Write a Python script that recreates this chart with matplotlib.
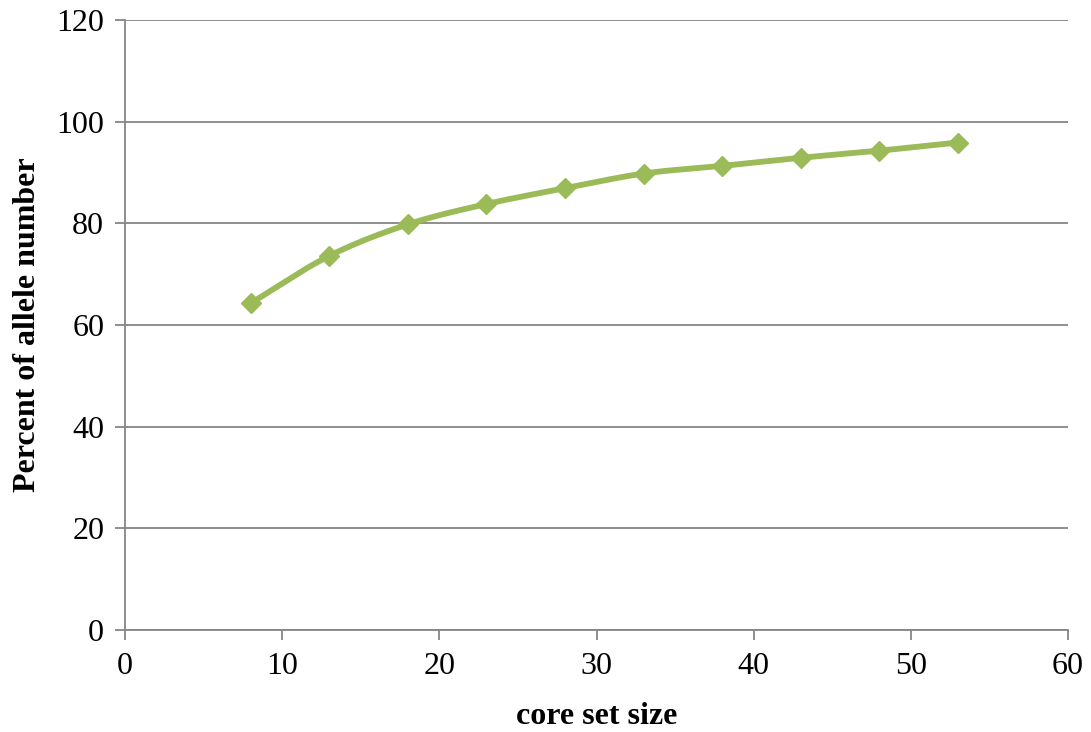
import numpy as np
import matplotlib
matplotlib.use("Agg")
import matplotlib.pyplot as plt

core_set_size = [8, 13, 18, 23, 28, 33, 38, 43, 48, 53]
percent_allele = [64.3, 73.6, 79.8, 83.8, 86.9, 89.8, 91.3, 92.9, 94.3, 95.9]

x_ticks = [0, 10, 20, 30, 40, 50, 60]
y_ticks = [0, 20, 40, 60, 80, 100, 120]

plt.rcParams['font.family'] = ['Liberation Serif', 'DejaVu Serif']

def catmull_rom(xs, ys, n=20):
    xs = np.asarray(xs, float); ys = np.asarray(ys, float)
    px = np.concatenate([[2*xs[0]-xs[1]], xs, [2*xs[-1]-xs[-2]]])
    py = np.concatenate([[2*ys[0]-ys[1]], ys, [2*ys[-1]-ys[-2]]])
    ox, oy = [], []
    for i in range(1, len(px)-2):
        t = np.linspace(0, 1, n, endpoint=(i == len(px)-3))
        for arr, out in ((px, ox), (py, oy)):
            p0, p1, p2, p3 = arr[i-1], arr[i], arr[i+1], arr[i+2]
            out.extend(0.5*((2*p1) + (-p0+p2)*t + (2*p0-5*p1+4*p2-p3)*t**2 + (-p0+3*p1-3*p2+p3)*t**3))
    return np.array(ox), np.array(oy)

fig = plt.figure(figsize=(10.91, 7.32), dpi=100)
ax = fig.add_axes([125/1091, (732-630)/732, (1068-125)/1091, (630-20)/732])

color = '#9BBB59'
sx, sy = catmull_rom(core_set_size, percent_allele)
ax.plot(sx, sy, color=color, lw=4.2, solid_capstyle='round', zorder=3)
ax.plot(core_set_size, percent_allele, linestyle='none', marker='D', ms=10.5,
        color=color, markeredgecolor=color, zorder=4)

ax.set_xlim(0, 60)
ax.set_ylim(0, 120)
ax.set_xticks(x_ticks)
ax.set_yticks(y_ticks)
ax.yaxis.grid(True, color='#868686', lw=1.3)
ax.set_axisbelow(True)
for s in ['top', 'right']:
    ax.spines[s].set_visible(False)
for s in ['left', 'bottom']:
    ax.spines[s].set_color('#868686')
    ax.spines[s].set_linewidth(1.3)
ax.tick_params(axis='both', colors='#868686', labelcolor='black', labelsize=23,
               length=7, width=1.3, direction='out')
ax.tick_params(axis='y', pad=8)
ax.tick_params(axis='x', pad=9)

ax.set_xlabel('core set size', fontsize=23, fontweight='bold', labelpad=15)
ax.set_ylabel('Percent of allele number', fontsize=23, fontweight='bold', labelpad=10)

fig.savefig('out.png', dpi=100)
